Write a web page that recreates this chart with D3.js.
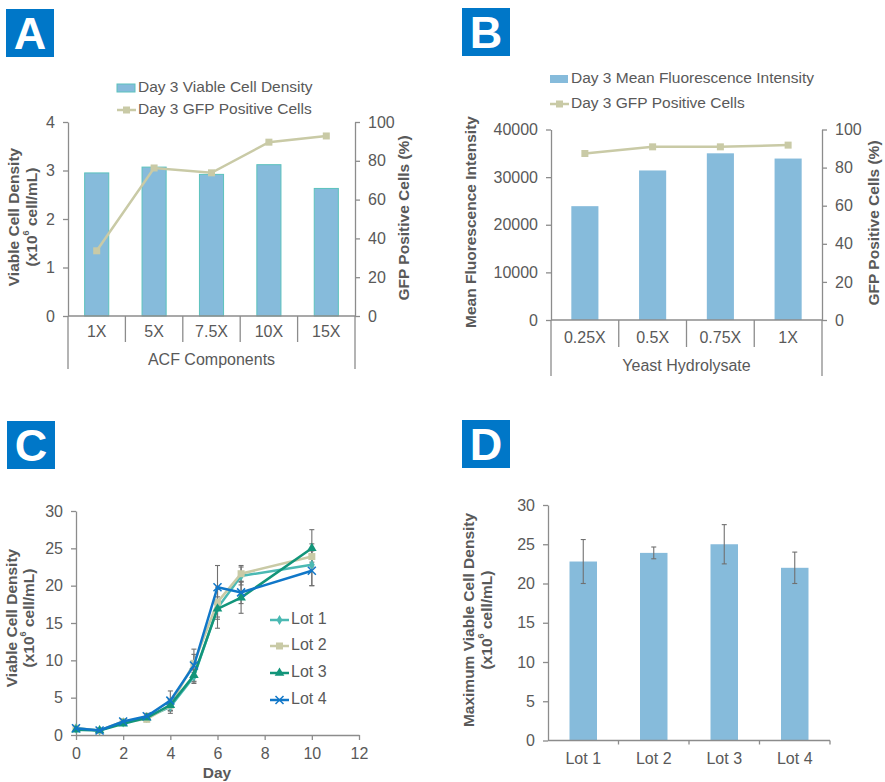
<!DOCTYPE html>
<html>
<head>
<meta charset="utf-8">
<script src="https://cdn.jsdelivr.net/npm/d3@7"></script>
<style>
  body { margin: 0; background: #ffffff; }
  svg text { font-family: "Liberation Sans", Arial, sans-serif; }
</style>
</head>
<body>
<svg id="fig" width="885" height="782"></svg>
<script>
// ---- Panel A: ACF component titration ----
const acfCategories = ["1X", "5X", "7.5X", "10X", "15X"];
const acfViableDensity = [2.95, 3.07, 2.92, 3.12, 2.63];
const acfGfpPositive = [33.6, 76.3, 73.8, 89.6, 92.8];

// ---- Panel B: yeast hydrolysate titration ----
const yhCategories = ["0.25X", "0.5X", "0.75X", "1X"];
const yhMeanFluorescence = [23900, 31400, 35000, 33900];
const yhGfpPositive = [87.4, 90.9, 90.9, 91.8];

// ---- Panel C: growth curves per lot ----
const growthDays = [0, 1, 2, 3, 4, 5, 6, 7, 10];
const lotNames = ["Lot 1", "Lot 2", "Lot 3", "Lot 4"];
const lot1Density = [0.9, 0.6, 1.7, 2.3, 3.8, 7.8, 17.0, 21.3, 22.8];
const lot2Density = [0.9, 0.6, 1.8, 2.1, 4.0, 9.6, 17.8, 21.6, 23.9];
const lot3Density = [0.7, 0.6, 1.5, 2.3, 4.0, 8.0, 16.9, 18.4, 25.0];
const lot4Density = [0.9, 0.6, 1.8, 2.5, 4.6, 9.3, 19.8, 19.1, 22.0];
const lot1Sd = [0.1, 0.1, 0.2, 0.2, 0.9, 0.9, 1.5, 1.2, 2.8];
const lot2Sd = [0.1, 0.1, 0.3, 0.3, 0.8, 1.2, 2.0, 1.1, 0.75];
const lot3Sd = [0.1, 0.1, 0.2, 0.3, 0.7, 0.8, 2.6, 2.1, 2.5];
const lot4Sd = [0.2, 0.1, 0.2, 0.4, 1.3, 2.2, 2.9, 1.5, 2.0];

// ---- Panel D: maximum viable cell density per lot ----
const maxDensity = [22.8, 23.9, 25.0, 22.0];
const maxDensitySd = [2.8, 0.75, 2.5, 2.0];

// Tick values
const ticksA = [0, 1, 2, 3, 4];
const ticksPercent = [0, 20, 40, 60, 80, 100];
const ticksB = [0, 10000, 20000, 30000, 40000];
const ticksCx = [0, 2, 4, 6, 8, 10, 12];
const ticksVcd = [0, 5, 10, 15, 20, 25, 30];

const TEXT = "#595959";
const AXIS = "#8c8c8c";
const BAR = "#86bbdb";
const BAR_EDGE_A = "#5cc2bd";
const GFP = "#c9caa6";
const BADGE = "#0077c8";
const LOT_COLORS = ["#4bb9b3", "#c9caa6", "#12957a", "#1077c8"];
const FONT = 16;      // tick and category labels
const LEG_FONT = 15.5; // legend entries
const TITLE_FONT = 15.5; // bold axis titles

const svg = d3.select("#fig");

function badge(x, y, letter) {
  const g = svg.append("g");
  g.append("rect").attr("x", x).attr("y", y).attr("width", 48).attr("height", 48).attr("fill", BADGE);
  g.append("text").attr("x", x + 24).attr("y", y + 40).attr("text-anchor", "middle")
    .attr("fill", "#fff").attr("font-weight", "bold").attr("font-size", 45).text(letter);
}

function styleAxis(g) {
  g.selectAll("path.domain").attr("stroke", AXIS).attr("stroke-width", 1.3);
  g.selectAll(".tick line").attr("stroke", AXIS).attr("stroke-width", 1.3);
  g.selectAll(".tick text").attr("fill", TEXT).attr("font-size", FONT)
    .attr("font-family", "Liberation Sans, Arial, sans-serif");
}

function titleMain(x, cy, text) {
  svg.append("text").attr("transform", `translate(${x},${cy}) rotate(-90)`)
    .attr("text-anchor", "middle").attr("dominant-baseline", "middle")
    .attr("fill", TEXT).attr("font-weight", "bold").attr("font-size", TITLE_FONT).text(text);
}

function titleUnits(x, cy) {
  const t = svg.append("text").attr("transform", `translate(${x},${cy}) rotate(-90)`)
    .attr("text-anchor", "middle").attr("dominant-baseline", "middle")
    .attr("fill", TEXT).attr("font-weight", "bold").attr("font-size", TITLE_FONT);
  t.append("tspan").text("(x10");
  t.append("tspan").attr("font-size", 9).attr("dy", -6).text("6");
  t.append("tspan").attr("dy", 6).text(" cell/mL)");
}

function squareMarker(g, x, y, color, s) {
  g.append("rect").attr("x", x - s / 2).attr("y", y - s / 2).attr("width", s).attr("height", s).attr("fill", color);
}

// Bar + line combo with a grouped category axis (panels A and B)
function comboPanel(cfg) {
  const x = d3.scaleBand().domain(cfg.categories).range([cfg.x0, cfg.x1]).paddingInner(0).paddingOuter(0);
  const yL = d3.scaleLinear().domain(cfg.leftDomain).range([cfg.yBottom, cfg.yTop]);
  const yR = d3.scaleLinear().domain([0, 100]).range([cfg.yBottom, cfg.yTop]);
  const g = svg.append("g");
  const bw = x.bandwidth() * cfg.barFrac;

  // bars
  g.selectAll("rect.bar").data(cfg.categories).enter().append("rect")
    .attr("x", d => x(d) + (x.bandwidth() - bw) / 2)
    .attr("y", (d, i) => yL(cfg.bars[i]))
    .attr("width", bw)
    .attr("height", (d, i) => yL(0) - yL(cfg.bars[i]))
    .attr("fill", BAR)
    .attr("stroke", cfg.barEdge).attr("stroke-width", cfg.barEdge === "none" ? 0 : 1);

  // left axis
  const la = g.append("g").attr("transform", `translate(${cfg.x0},0)`)
    .call(d3.axisLeft(yL).tickValues(cfg.leftTicks).tickSize(5).tickSizeOuter(0).tickPadding(8).tickFormat(d3.format("d")));
  styleAxis(la);
  // right axis
  const ra = g.append("g").attr("transform", `translate(${cfg.x1},0)`)
    .call(d3.axisRight(yR).tickValues(ticksPercent).tickSize(5).tickSizeOuter(0).tickPadding(8));
  styleAxis(ra);

  // category axis with group frame
  g.append("line").attr("x1", cfg.x0).attr("x2", cfg.x1).attr("y1", cfg.yBottom).attr("y2", cfg.yBottom)
    .attr("stroke", AXIS).attr("stroke-width", 1.3);
  [cfg.x0, cfg.x1].forEach(px => g.append("line").attr("x1", px).attr("x2", px)
    .attr("y1", cfg.yBottom).attr("y2", cfg.frameBottom).attr("stroke", AXIS).attr("stroke-width", 1.3));
  cfg.categories.slice(1).forEach(c => g.append("line").attr("x1", x(c)).attr("x2", x(c))
    .attr("y1", cfg.yBottom).attr("y2", cfg.sepBottom).attr("stroke", AXIS).attr("stroke-width", 1.3));
  g.selectAll("text.cat").data(cfg.categories).enter().append("text")
    .attr("x", d => x(d) + x.bandwidth() / 2).attr("y", cfg.catY)
    .attr("text-anchor", "middle").attr("dominant-baseline", "middle")
    .attr("fill", TEXT).attr("font-size", FONT).text(d => d);
  g.append("text").attr("x", (cfg.x0 + cfg.x1) / 2).attr("y", cfg.groupY)
    .attr("text-anchor", "middle").attr("dominant-baseline", "middle")
    .attr("fill", TEXT).attr("font-size", FONT).text(cfg.groupLabel);

  // GFP line
  const line = d3.line().x((d, i) => x(cfg.categories[i]) + x.bandwidth() / 2).y(d => yR(d));
  g.append("path").datum(cfg.line).attr("d", line).attr("fill", "none").attr("stroke", GFP).attr("stroke-width", 2.5);
  cfg.line.forEach((v, i) => squareMarker(g, x(cfg.categories[i]) + x.bandwidth() / 2, yR(v), GFP, 7));

  // legend
  const lg = svg.append("g");
  lg.append("rect").attr("x", cfg.legX).attr("y", cfg.legY1 - 4).attr("width", 18).attr("height", 8)
    .attr("fill", BAR).attr("stroke", cfg.barEdge).attr("stroke-width", cfg.barEdge === "none" ? 0 : 1);
  lg.append("text").attr("x", cfg.legX + 21).attr("y", cfg.legY1).attr("dominant-baseline", "middle")
    .attr("fill", TEXT).attr("font-size", LEG_FONT).text(cfg.barName);
  lg.append("line").attr("x1", cfg.legX).attr("x2", cfg.legX + 19).attr("y1", cfg.legY2).attr("y2", cfg.legY2)
    .attr("stroke", GFP).attr("stroke-width", 2.5);
  squareMarker(lg, cfg.legX + 9.5, cfg.legY2, GFP, 7);
  lg.append("text").attr("x", cfg.legX + 21).attr("y", cfg.legY2).attr("dominant-baseline", "middle")
    .attr("fill", TEXT).attr("font-size", LEG_FONT).text("Day 3 GFP Positive Cells");
}

// Panel A
badge(6, 9, "A");
comboPanel({
  categories: acfCategories, bars: acfViableDensity, line: acfGfpPositive,
  leftDomain: [0, 4], leftTicks: ticksA,
  x0: 68, x1: 355, yTop: 122, yBottom: 316, barFrac: 0.42, barEdge: BAR_EDGE_A,
  sepBottom: 342, frameBottom: 369, catY: 333, groupY: 361, groupLabel: "ACF Components",
  legX: 117, legY1: 88, legY2: 110, barName: "Day 3 Viable Cell Density"
});
titleMain(15, 217, "Viable Cell Density");
titleUnits(33, 217);
titleMain(405, 218, "GFP Positive Cells (%)");

// Panel B
badge(462, 8, "B");
comboPanel({
  categories: yhCategories, bars: yhMeanFluorescence, line: yhGfpPositive,
  leftDomain: [0, 40000], leftTicks: ticksB,
  x0: 551, x1: 822, yTop: 129.5, yBottom: 320, barFrac: 0.4, barEdge: "none",
  sepBottom: 347, frameBottom: 376, catY: 339, groupY: 367, groupLabel: "Yeast Hydrolysate",
  legX: 550, legY1: 79, legY2: 104, barName: "Day 3 Mean Fluorescence Intensity"
});
titleMain(472, 222, "Mean Fluorescence Intensity");
titleMain(875, 223, "GFP Positive Cells (%)");

// Panel C: growth curves
badge(7, 421, "C");
(function () {
  const x = d3.scaleLinear().domain([0, 12]).range([76, 359]);
  const y = d3.scaleLinear().domain([0, 30]).range([735, 511]);
  const g = svg.append("g");
  const xa = g.append("g").attr("transform", "translate(0,735)")
    .call(d3.axisBottom(x).tickValues(ticksCx).tickSize(5).tickSizeOuter(0).tickPadding(8));
  styleAxis(xa);
  const ya = g.append("g").attr("transform", "translate(76,0)")
    .call(d3.axisLeft(y).tickValues(ticksVcd).tickSize(5).tickSizeOuter(0).tickPadding(8));
  styleAxis(ya);

  const series = [
    { name: lotNames[0], v: lot1Density, sd: lot1Sd, color: LOT_COLORS[0], sym: "diamond" },
    { name: lotNames[1], v: lot2Density, sd: lot2Sd, color: LOT_COLORS[1], sym: "square" },
    { name: lotNames[2], v: lot3Density, sd: lot3Sd, color: LOT_COLORS[2], sym: "triangle" },
    { name: lotNames[3], v: lot4Density, sd: lot4Sd, color: LOT_COLORS[3], sym: "cross" }
  ];

  // error bars
  series.forEach(s => {
    s.v.forEach((v, i) => {
      const px = x(growthDays[i]);
      const lo = y(v - s.sd[i]), hi = y(v + s.sd[i]);
      g.append("line").attr("x1", px).attr("x2", px).attr("y1", lo).attr("y2", hi).attr("stroke", "#707070").attr("stroke-width", 1.1);
      [lo, hi].forEach(py => g.append("line").attr("x1", px - 2.5).attr("x2", px + 2.5).attr("y1", py).attr("y2", py)
        .attr("stroke", "#707070").attr("stroke-width", 1.1));
    });
  });

  function marker(sel, sym, px, py, color) {
    if (sym === "diamond") {
      sel.append("path").attr("d", d3.symbol(d3.symbolDiamond, 30)()).attr("transform", `translate(${px},${py})`).attr("fill", color);
    } else if (sym === "square") {
      squareMarker(sel, px, py, color, 7);
    } else if (sym === "triangle") {
      sel.append("path").attr("d", d3.symbol(d3.symbolTriangle, 40)()).attr("transform", `translate(${px},${py})`).attr("fill", color);
    } else {
      sel.append("path").attr("d", "M-4,-4L4,4M-4,4L4,-4").attr("transform", `translate(${px},${py})`)
        .attr("stroke", color).attr("stroke-width", 1.5).attr("fill", "none");
    }
  }

  const line = d3.line().x((d, i) => x(growthDays[i])).y(d => y(d));
  series.forEach(s => {
    g.append("path").datum(s.v).attr("d", line).attr("fill", "none").attr("stroke", s.color).attr("stroke-width", 2.5);
    s.v.forEach((v, i) => marker(g, s.sym, x(growthDays[i]), y(v), s.color));
  });

  // legend
  const legY = [620, 646, 673, 700];
  series.forEach((s, i) => {
    g.append("line").attr("x1", 270).attr("x2", 289).attr("y1", legY[i]).attr("y2", legY[i]).attr("stroke", s.color).attr("stroke-width", 2.5);
    marker(g, s.sym, 279.5, legY[i], s.color);
    g.append("text").attr("x", 291).attr("y", legY[i]).attr("dominant-baseline", "middle")
      .attr("fill", TEXT).attr("font-size", FONT).text(s.name);
  });

  g.append("text").attr("x", 217).attr("y", 774).attr("text-anchor", "middle").attr("dominant-baseline", "middle")
    .attr("fill", TEXT).attr("font-weight", "bold").attr("font-size", TITLE_FONT).text("Day");
  titleMain(13, 618, "Viable Cell Density");
  titleUnits(30, 618);
})();

// Panel D: maximum VCD bars
badge(462, 420, "D");
(function () {
  const x = d3.scaleBand().domain(lotNames).range([548, 830]).paddingInner(0).paddingOuter(0);
  const y = d3.scaleLinear().domain([0, 30]).range([740.5, 505]);
  const g = svg.append("g");
  const bw = x.bandwidth() * 0.39;
  g.selectAll("rect").data(lotNames).enter().append("rect")
    .attr("x", d => x(d) + (x.bandwidth() - bw) / 2)
    .attr("y", (d, i) => y(maxDensity[i]))
    .attr("width", bw).attr("height", (d, i) => y(0) - y(maxDensity[i]))
    .attr("fill", BAR);

  const ya = g.append("g").attr("transform", "translate(548,0)")
    .call(d3.axisLeft(y).tickValues(ticksVcd).tickSize(5).tickSizeOuter(0).tickPadding(8));
  styleAxis(ya);
  g.append("line").attr("x1", 548).attr("x2", 830).attr("y1", y(0)).attr("y2", y(0)).attr("stroke", AXIS).attr("stroke-width", 1.3);
  lotNames.slice(1).concat([null]).forEach(d => {
    const px = d === null ? 830 : x(d);
    g.append("line").attr("x1", px).attr("x2", px).attr("y1", y(0)).attr("y2", y(0) + 4).attr("stroke", AXIS).attr("stroke-width", 1.3);
  });
  g.selectAll("text.cat").data(lotNames).enter().append("text")
    .attr("x", d => x(d) + x.bandwidth() / 2).attr("y", 760)
    .attr("text-anchor", "middle").attr("dominant-baseline", "middle")
    .attr("fill", TEXT).attr("font-size", FONT).text(d => d);

  // error bars
  maxDensity.forEach((v, i) => {
    const px = x(lotNames[i]) + x.bandwidth() / 2;
    const lo = y(v - maxDensitySd[i]), hi = y(v + maxDensitySd[i]);
    g.append("line").attr("x1", px).attr("x2", px).attr("y1", lo).attr("y2", hi).attr("stroke", "#707070").attr("stroke-width", 1.1);
    [lo, hi].forEach(py => g.append("line").attr("x1", px - 2.5).attr("x2", px + 2.5).attr("y1", py).attr("y2", py)
      .attr("stroke", "#707070").attr("stroke-width", 1.1));
  });

  titleMain(470, 620, "Maximum Viable Cell Density");
  titleUnits(488, 620);
})();
</script>
</body>
</html>
